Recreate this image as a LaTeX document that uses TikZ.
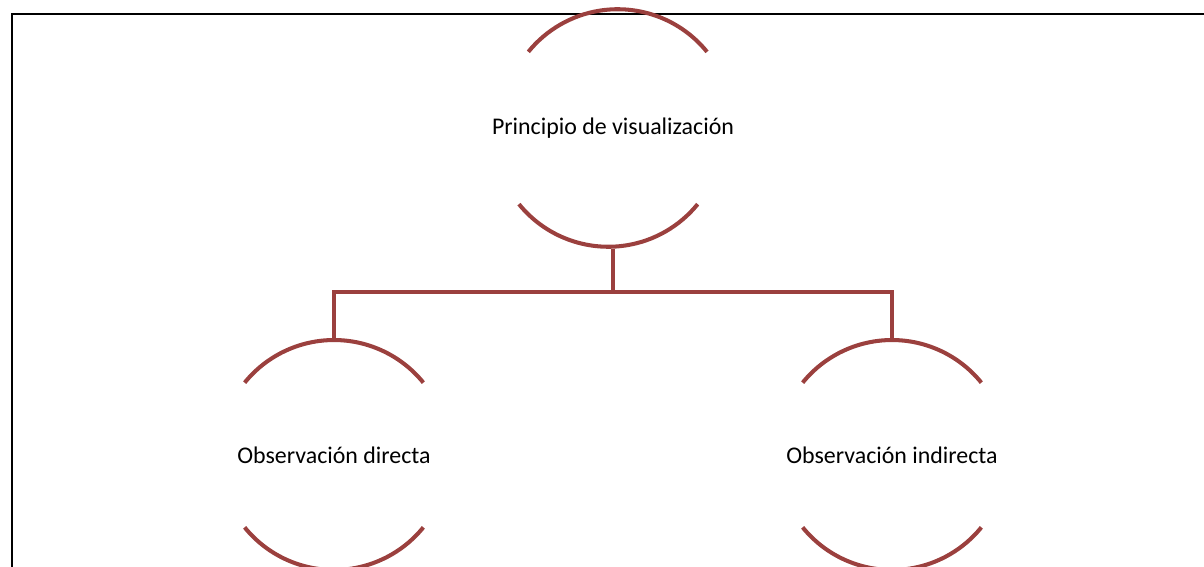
\documentclass[tikz,border=0pt]{standalone}
\usepackage{fontspec}
\setmainfont{Carlito}
\usetikzlibrary{positioning}
\definecolor{arcred}{RGB}{155,64,62}

\begin{document}
\begin{tikzpicture}[x=0.02cm,y=-0.02cm,
  topic/.style={circle,minimum size=4.6cm,inner sep=0pt,outer sep=0pt,
    font=\fontsize{13.6}{16}\selectfont},
  rim/.style={draw=arcred,line width=2.3pt},
  link/.style={draw=arcred,line width=2.3pt}]
\useasboundingbox (0,0) rectangle (1204,567);
\draw[line width=1.2pt] (12,580) |- (1220,14);
\node[topic] (vis) at (613,128) {Principio de visualizaci\'on};
\node[topic] (dir) at (334,455) {Observaci\'on directa};
\node[topic] (ind) at (892,455) {Observaci\'on indirecta};
\foreach \n in {vis,dir,ind}{
  \draw[rim] (\n.39) arc[start angle=39,end angle=141,radius=2.3cm];
  \draw[rim] (\n.219) arc[start angle=219,end angle=321,radius=2.3cm];
}
\coordinate (bus) at (613,292);
\draw[link] (vis.south) -- (bus);
\draw[link] (dir.north) |- (bus) -| (ind.north);
\end{tikzpicture}
\end{document}
